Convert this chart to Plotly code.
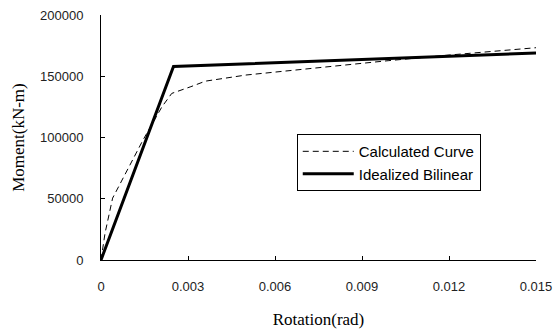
import plotly.graph_objects as go

# Data
calc_rot = [0, 0.00014, 0.0004, 0.0009, 0.00145, 0.0021, 0.00244, 0.0031, 0.0036, 0.005, 0.006, 0.008, 0.0099, 0.012, 0.015]
calc_mom = [0, 22000, 50500, 73500, 98000, 125000, 136000, 141500, 146000, 151000, 153500, 158000, 162700, 167300, 173300]
bil_rot = [0, 0.0025, 0.015]
bil_mom = [0, 158000, 169000]

x_ticks = [0, 0.003, 0.006, 0.009, 0.012, 0.015]
x_tick_labels = ["0", "0.003", "0.006", "0.009", "0.012", "0.015"]
y_ticks = [0, 50000, 100000, 150000, 200000]
y_tick_labels = ["0", "50000", "100000", "150000", "200000"]

fig = go.Figure()
fig.add_trace(go.Scatter(x=calc_rot, y=calc_mom, mode="lines", name="Calculated Curve",
                         line=dict(color="black", width=1, dash="6px,4px")))
fig.add_trace(go.Scatter(x=bil_rot, y=bil_mom, mode="lines", name="Idealized Bilinear",
                         line=dict(color="black", width=3)))

tick_font = dict(family="Liberation Sans, Arial", size=13, color="#222")
title_font = dict(family="Liberation Serif, Times New Roman", size=17, color="black")

fig.update_layout(
    width=556, height=334,
    margin=dict(l=101, r=20, t=15, b=74),
    paper_bgcolor="white", plot_bgcolor="white",
    showlegend=True,
    legend=dict(x=0.450, y=0.514, xanchor="left", yanchor="top",
                bordercolor="black", borderwidth=1, bgcolor="white",
                font=dict(family="Liberation Sans, Arial", size=15, color="black"),
                itemwidth=51, tracegroupgap=0),
    xaxis=dict(range=[0, 0.015], tickvals=x_ticks, ticktext=x_tick_labels, automargin=False,
               showgrid=False, zeroline=False, showline=True, linecolor="black", linewidth=1,
               ticks="inside", ticklen=4, tickcolor="black", tickfont=tick_font,
               ticklabelstandoff=14,
               title=dict(text="Rotation(rad)", font=title_font, standoff=20)),
    yaxis=dict(range=[0, 200000], tickvals=y_ticks, ticktext=y_tick_labels, automargin=False,
               showgrid=False, zeroline=False, showline=True, linecolor="black", linewidth=1,
               ticks="inside", ticklen=4, tickcolor="black", tickfont=tick_font,
               ticklabelstandoff=14),
)
fig.add_annotation(text="Moment(kN-m)", xref="paper", yref="paper", x=-0.19, y=0.5,
                   xanchor="center", yanchor="middle", textangle=-90, showarrow=False,
                   font=title_font)

fig.write_html("out.html")
